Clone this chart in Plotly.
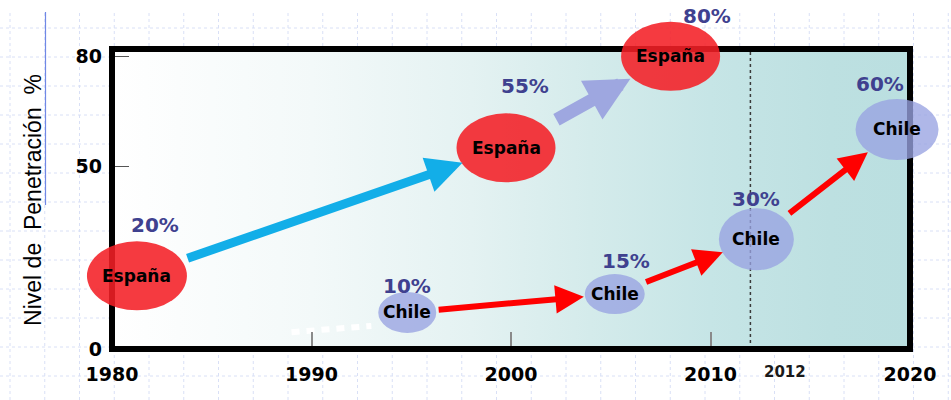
import plotly.graph_objects as go

# ---- data -------------------------------------------------------------
espana_anios = [1981.25, 1999.75, 2008.0]
espana_nivel = [20, 55, 80]
espana_etiquetas = ["20%", "55%", "80%"]

chile_anios = [1994.8, 2005.2, 2012.3, 2019.35]
chile_nivel = [10, 15, 30, 60]
chile_etiquetas = ["10%", "15%", "30%", "60%"]

# faint dotted lead-in before Chile's first point
chile_previo_anios = [1989.0, 1993.0]
chile_previo_nivel = [4.6, 6.3]

x_ticks = [1980, 1990, 2000, 2010, 2020]
y_ticks = [0, 50, 80]
anio_corte = 2012

# ---- geometry / style -------------------------------------------------
W, H = 951, 400
FX0, FX1, FY0, FY1 = 112, 910, 49, 349      # frame (pixel centre of border)
X_LO, X_HI = 1980, 2020
Y_LO, Y_HI = 0, 82

ppx = (FX1 - FX0) / (X_HI - X_LO)
ppy = (FY1 - FY0) / (Y_HI - Y_LO)
x_range = [X_LO - FX0 / ppx, X_HI + (W - FX1) / ppx]
y_range = [Y_LO - (H - FY1) / ppy, Y_HI + FY0 / ppy]

ROJO = "#f41f25"
LILA = "#98a3e1"
CIAN = "#12aee8"
LILA_FLECHA = "#9ea7e0"
ROJO_FLECHA = "#ff0000"
PCT_COLOR = "#3f418f"

tam_espana = [(100, 69), (99, 69), (99, 69)]
tam_chile = [(58, 41), (60, 40), (75, 62), (83, 61)]
off_pct_espana = [(18, 51), (19, 62), (36, 40)]
off_pct_chile = [(0, 26), (11, 33), (0, 40), (-17, 45)]

fig = go.Figure()

# gradient panel behind the series
fig.add_trace(go.Scatter(
    x=[X_LO, X_HI, X_HI, X_LO, X_LO], y=[Y_LO, Y_LO, Y_HI, Y_HI, Y_LO],
    mode="lines", fill="toself", line=dict(width=0),
    fillgradient=dict(type="horizontal", colorscale=[
        [0.0, "#ffffff"], [0.25, "#f3f9f9"], [0.45, "#e4f2f2"],
        [0.6, "#d4ebeb"], [0.75, "#c6e5e6"], [0.9, "#bde0e1"], [1.0, "#badfe0"]]),
    hoverinfo="skip", showlegend=False))

fig.add_trace(go.Scatter(
    x=chile_previo_anios, y=chile_previo_nivel, mode="lines",
    line=dict(color="white", width=6, dash="8px,7px"),
    hoverinfo="skip", showlegend=False))

shapes = []
# notebook-paper grid behind everything
vx = 10.0
while vx <= W:
    shapes.append(dict(type="line", xref="paper", yref="paper", layer="below",
                       x0=vx / W, x1=vx / W, y0=0, y1=1 - 12 / H,
                       line=dict(color="#d9e0f6", width=1, dash="dot")))
    vx += 34.75
hy = 28.0
while hy <= H:
    shapes.append(dict(type="line", xref="paper", yref="paper", layer="below",
                       x0=0, x1=1, y0=1 - hy / H, y1=1 - hy / H,
                       line=dict(color="#d9e0f6", width=1, dash="dot")))
    hy += 29
shapes.append(dict(type="line", xref="paper", yref="paper", layer="below",
                   x0=45.5 / W, x1=45.5 / W, y0=1 - 205 / H, y1=1 - 12 / H,
                   line=dict(color="#7088e6", width=1.2)))

# 2012 marker
shapes.append(dict(type="line", xref="x", yref="y", layer="above",
                   x0=anio_corte, x1=anio_corte, y0=Y_LO, y1=Y_HI,
                   line=dict(color="#3a3a3a", width=1.5, dash="3px,3px")))
# frame
shapes.append(dict(type="rect", xref="x", yref="y", layer="above",
                   x0=X_LO, x1=X_HI, y0=Y_LO, y1=Y_HI,
                   line=dict(color="black", width=6)))


def burbuja(x, y, tam, color, opac):
    w, h = tam
    return dict(type="circle", xref="x", yref="y", layer="above",
                xsizemode="pixel", ysizemode="pixel", xanchor=x, yanchor=y,
                x0=-w / 2, x1=w / 2, y0=-h / 2, y1=h / 2,
                fillcolor=color, opacity=opac, line=dict(width=0))


for x, y, t in zip(espana_anios, espana_nivel, tam_espana):
    shapes.append(burbuja(x, y, t, ROJO, 0.88))
for x, y, t in zip(chile_anios, chile_nivel, tam_chile):
    shapes.append(burbuja(x, y, t, LILA, 0.78))

annotations = []
f_burbuja = dict(family="DejaVu Sans", size=17, color="black", weight="bold")
f_pct = dict(family="DejaVu Sans", size=20, color=PCT_COLOR, weight="bold")

for x, y in zip(espana_anios, espana_nivel):
    annotations.append(dict(x=x, y=y, xref="x", yref="y", text="España",
                            showarrow=False, font=f_burbuja))
for x, y in zip(chile_anios, chile_nivel):
    annotations.append(dict(x=x, y=y, xref="x", yref="y", text="Chile",
                            showarrow=False, font=f_burbuja))
for x, y, lab, (dx, dy) in zip(espana_anios, espana_nivel, espana_etiquetas, off_pct_espana):
    annotations.append(dict(x=x, y=y, xref="x", yref="y", text=lab, showarrow=False,
                            xshift=dx, yshift=dy, font=f_pct))
for x, y, lab, (dx, dy) in zip(chile_anios, chile_nivel, chile_etiquetas, off_pct_chile):
    annotations.append(dict(x=x, y=y, xref="x", yref="y", text=lab, showarrow=False,
                            xshift=dx, yshift=dy, font=f_pct))

# arrows: (years, levels, from, to, colour, width, head size, start gap, end gap)
flechas = [
    (espana_anios, espana_nivel, 0, 1, CIAN, 9, 0.8, 52, 46),
    (espana_anios, espana_nivel, 1, 2, LILA_FLECHA, 13, 0.68, 56, 46),
    (chile_anios, chile_nivel, 0, 1, ROJO_FLECHA, 6, 0.95, 30, 31),
    (chile_anios, chile_nivel, 1, 2, ROJO_FLECHA, 6, 0.95, 32, 36),
    (chile_anios, chile_nivel, 2, 3, ROJO_FLECHA, 6, 0.95, 40, 37),
]
for xs, ys, a, b, col, wd, hs, s0, s1 in flechas:
    annotations.append(dict(x=xs[b], y=ys[b], ax=xs[a], ay=ys[a],
                            xref="x", yref="y", axref="x", ayref="y",
                            text="", showarrow=True, arrowhead=2, arrowsize=hs,
                            arrowwidth=wd, arrowcolor=col,
                            standoff=s1, startstandoff=s0))

annotations.append(dict(x=anio_corte, y=Y_LO, xref="x", yref="y", text=str(anio_corte),
                        showarrow=False, xanchor="left", yanchor="top",
                        xshift=12, yshift=-12,
                        font=dict(family="DejaVu Sans", size=15, color="#1a1a1a", weight="bold")))

eje_font = dict(family="DejaVu Sans", size=19, color="black", weight="bold")

fig.update_layout(
    width=W, height=H,
    margin=dict(l=0, r=0, t=0, b=0, pad=0),
    paper_bgcolor="white", plot_bgcolor="white",
    showlegend=False,
    shapes=shapes, annotations=annotations,
    xaxis=dict(range=x_range, domain=[0, 1], anchor="free", position=(H - FY1) / H,
               tickvals=x_ticks, ticktext=[str(v) for v in x_ticks],
               ticks="inside", ticklen=17, tickwidth=2, tickcolor="#8a8a8a",
               showgrid=False, zeroline=False, showline=False,
               tickfont=eje_font, ticklabelstandoff=12, fixedrange=True),
    yaxis=dict(range=y_range, domain=[0, 1], anchor="free", position=FX0 / W,
               tickvals=y_ticks, ticktext=[str(v) for v in y_ticks],
               ticks="inside", ticklen=16, tickwidth=1, tickcolor="#555555",
               showgrid=False, zeroline=False, showline=False,
               tickfont=eje_font, ticklabelstandoff=10, fixedrange=True,
               title=dict(text="Nivel de&nbsp; Penetración&nbsp; %", standoff=26,
                          font=dict(family="Liberation Sans", size=23, color="#000000"))),
)

fig.write_html("out.html")
